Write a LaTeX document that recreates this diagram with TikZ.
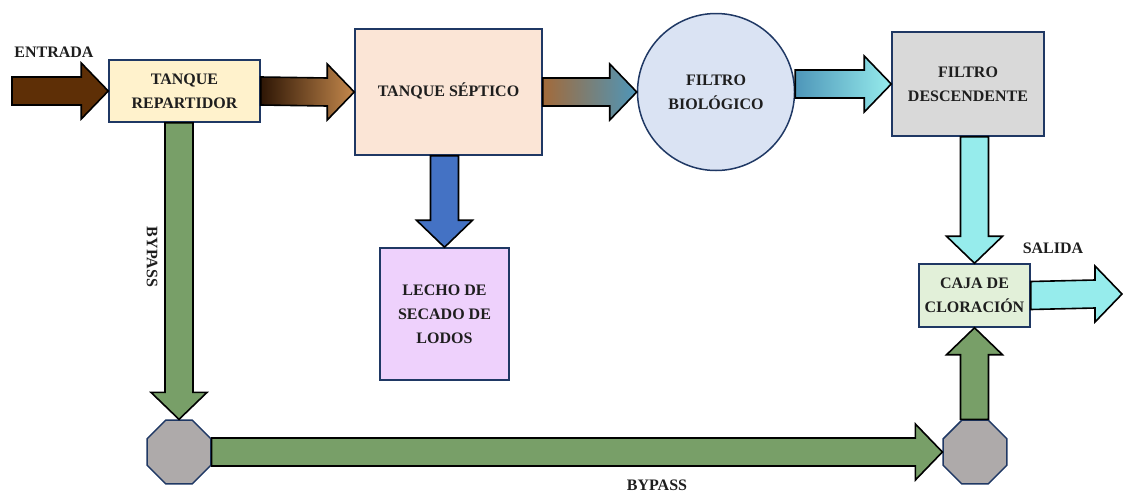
\documentclass[tikz,border=0pt]{standalone}
\usepackage{fontspec}
\setmainfont{Liberation Serif}
\usetikzlibrary{positioning,calc,shapes.geometric}

\definecolor{navy}{RGB}{31,56,100}
\definecolor{txt}{RGB}{30,30,30}
\definecolor{repfill}{RGB}{255,242,204}
\definecolor{sepfill}{RGB}{251,229,214}
\definecolor{biofill}{RGB}{218,227,243}
\definecolor{desfill}{RGB}{217,217,217}
\definecolor{cajafill}{RGB}{226,240,217}
\definecolor{lechofill}{RGB}{238,209,252}
\definecolor{octfill}{RGB}{174,170,170}
\definecolor{brown1}{RGB}{94,47,6}
\definecolor{brown0}{RGB}{46,22,5}
\definecolor{brown2}{RGB}{196,136,76}
\definecolor{brown3}{RGB}{162,106,58}
\definecolor{teal1}{RGB}{78,150,185}
\definecolor{cyan1}{RGB}{150,236,236}
\definecolor{green1}{RGB}{120,159,104}
\definecolor{blue1}{RGB}{68,114,196}

\def\shw{14}
\def\hdw{28}
\def\hdl{27}

% block arrows: tail, tip
\newcommand{\rarr}[3][]{%
  \draw[barrow,#1] ($(#2)+(0,-\shw)$) -- ($(#3)+(-\hdl,-\shw)$) -- ($(#3)+(-\hdl,-\hdw)$) -- (#3)
    -- ($(#3)+(-\hdl,\hdw)$) -- ($(#3)+(-\hdl,\shw)$) -- ($(#2)+(0,\shw)$) -- cycle;}
\newcommand{\darr}[3][]{%
  \draw[barrow,#1] ($(#2)+(-\shw,0)$) -- ($(#3)+(-\shw,-\hdl)$) -- ($(#3)+(-\hdw,-\hdl)$) -- (#3)
    -- ($(#3)+(\hdw,-\hdl)$) -- ($(#3)+(\shw,-\hdl)$) -- ($(#2)+(\shw,0)$) -- cycle;}
\newcommand{\uarr}[3][]{%
  \draw[barrow,#1] ($(#2)+(-\shw,0)$) -- ($(#3)+(-\shw,\hdl)$) -- ($(#3)+(-\hdw,\hdl)$) -- (#3)
    -- ($(#3)+(\hdw,\hdl)$) -- ($(#3)+(\shw,\hdl)$) -- ($(#2)+(\shw,0)$) -- cycle;}

\begin{document}
\begin{tikzpicture}[x=1pt,y=-1pt,
    font=\bfseries\fontsize{16}{24}\selectfont,
    box/.style={draw=navy,line width=1.5pt,inner sep=0pt,align=center,text=txt},
    oct/.style={regular polygon,regular polygon sides=8,draw=navy,line width=1.5pt,
      fill=octfill,minimum size=69pt,inner sep=0pt},
    lbl/.style={text=txt,inner sep=0pt},
    barrow/.style={draw=black,line width=1.6pt,line join=miter}]
    \useasboundingbox (0,0) rectangle (1123,493);

    \node[box,fill=repfill,minimum width=151pt,minimum height=62pt] (rep) at (184.5,91) {TANQUE\\REPARTIDOR};
    \node[box,fill=sepfill,minimum width=187pt,minimum height=126pt] (sep) at (448.5,92) {\raisebox{4pt}{TANQUE SÉPTICO}};
    \node[box,circle,fill=biofill,minimum size=157pt] (bio) at (716,92) {FILTRO\\BIOLÓGICO};
    \node[box,fill=desfill,minimum width=152pt,minimum height=104pt] (des) at (968,84) {FILTRO\\DESCENDENTE};
    \node[box,fill=lechofill,minimum width=129pt,minimum height=132pt] (lecho) at (444.5,314) {LECHO DE\\SECADO DE\\LODOS};
    \node[box,fill=cajafill,minimum width=111pt,minimum height=63pt] (caja) at (974.5,295.5) {CAJA DE\\CLORACIÓN};
    \node[oct] (o1) at (179,452) {};
    \node[oct] (o2) at (975,452) {};

    \coordinate (in) at (12,91);
    \coordinate (out) at (1122,294);
    \coordinate (a4) at (bio.east |- des.west);
    \coordinate (a5) at (caja.north |- des.south);
    \coordinate (a6) at (o1.north |- rep.south);
    \coordinate (a7) at (lecho.north |- sep.south);
    \coordinate (a8) at (caja.south |- o2.north);
    \coordinate (a9) at (o2.west |- o1.east);

    \rarr[fill=brown1]{in}{rep.west}
    \rarr[left color=brown0,right color=brown2]{rep.east}{sep.west}
    \rarr[left color=brown3,middle color={rgb,255:red,132;green,128;blue,140},right color=teal1]{sep.east}{bio.west}
    \rarr[left color=teal1,right color=cyan1]{a4}{des.west}
    \darr[fill=cyan1]{a5}{caja.north}
    \rarr[fill=cyan1]{caja.east}{out}
    \darr[fill=blue1]{a7}{lecho.north}
    \darr[fill=green1]{a6}{o1.north}
    \rarr[fill=green1]{o1.east}{a9}
    \uarr[fill=green1]{a8}{caja.south}

    \node[lbl] (entrada) at (54,52) {ENTRADA};
    \node[lbl] (salida) at (1053,248) {SALIDA};
    \node[lbl,rotate=-90] (bp1) at (152,257) {BYPASS};
    \node[lbl] (bp2) at (657,485) {BYPASS};
\end{tikzpicture}
\end{document}
